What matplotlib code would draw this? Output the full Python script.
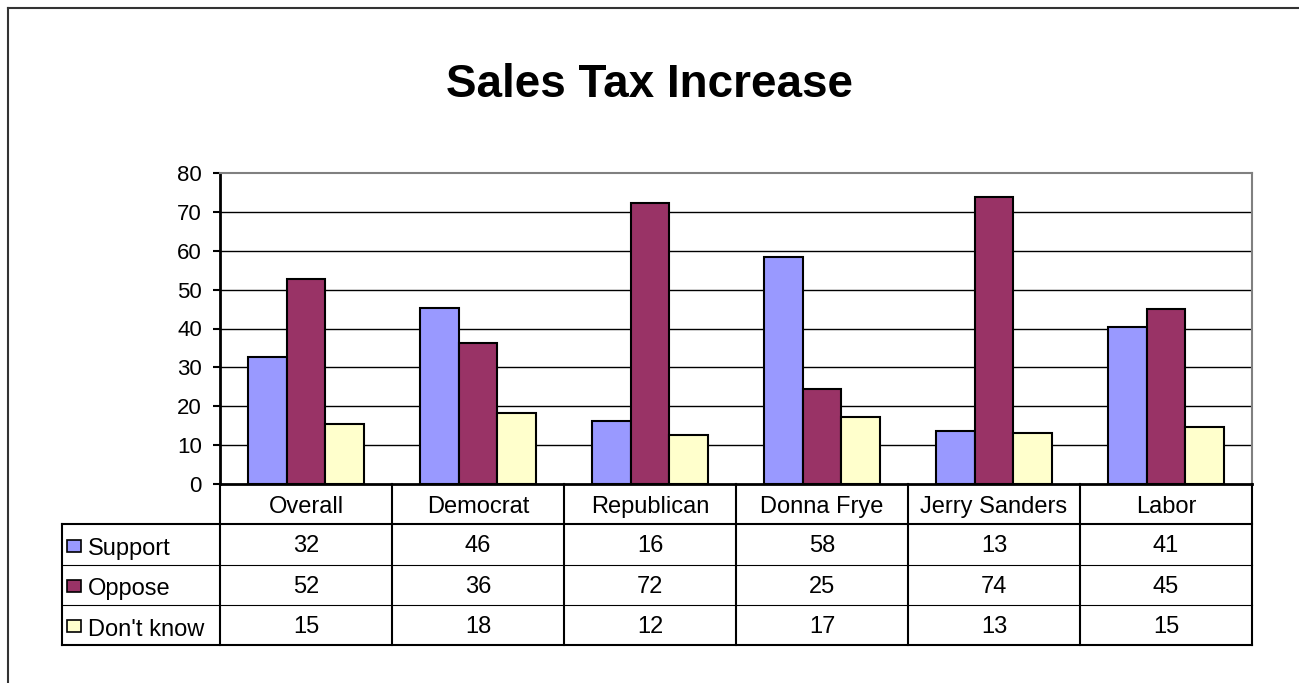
import matplotlib
matplotlib.use('Agg')
import matplotlib.pyplot as plt
from matplotlib.lines import Line2D
from matplotlib.patches import Rectangle

plt.rcParams['font.family'] = ['Liberation Sans', 'DejaVu Sans']

# Data
categories = ['Overall', 'Democrat', 'Republican', 'Donna Frye', 'Jerry Sanders', 'Labor']
series = ['Support', 'Oppose', "Don't know"]
support = [32.6, 45.4, 16.1, 58.3, 13.6, 40.3]
oppose = [52.7, 36.2, 72.2, 24.4, 73.7, 44.9]
dont_know = [15.5, 18.2, 12.5, 17.2, 13.0, 14.6]
# values printed in the data table
table_support = [32, 46, 16, 58, 13, 41]
table_oppose = [52, 36, 72, 25, 74, 45]
table_dont_know = [15, 18, 12, 17, 13, 15]

colors = ['#9999FF', '#993366', '#FFFFCC']
W, H = 1299, 683
fig = plt.figure(figsize=(W / 100, H / 100), dpi=100)

# pixel layout of the plot area
px_left, px_right, px_top, px_bottom = 220, 1252, 173, 484
ax = fig.add_axes([px_left / W, 1 - px_bottom / H, (px_right - px_left) / W, (px_bottom - px_top) / H])

n = len(categories)
bw = 0.225
for k, vals in enumerate([support, oppose, dont_know]):
    xs = [i + 0.5 + (k - 1) * bw for i in range(n)]
    ax.bar(xs, vals, width=bw, color=colors[k], edgecolor='black', linewidth=1.5, zorder=3)

ax.set_xlim(0, n)
ax.set_ylim(0, 80)
ax.set_yticks(range(0, 81, 10))
for y in range(10, 80, 10):
    ax.axhline(y, color='black', linewidth=1.0, zorder=1)
ax.set_xticks([])
ax.tick_params(axis='y', direction='out', length=5, width=1.5, pad=8, labelsize=16)
for s in ['top', 'right']:
    ax.spines[s].set_color('#808080')
    ax.spines[s].set_linewidth(1.5)
for s in ['left', 'bottom']:
    ax.spines[s].set_color('black')
    ax.spines[s].set_linewidth(2)

# data table below the plot
tb_left, tb_bottom = 62, 645
tax = fig.add_axes([tb_left / W, 1 - tb_bottom / H, (px_right - tb_left) / W, (tb_bottom - px_bottom) / H])
x0 = -(px_left - tb_left) / ((px_right - px_left) / n)
tax.set_xlim(x0, n)
tax.set_ylim(4, 0)
tax.axis('off')

thick, thin = 1.5, 0.8
# vertical lines
for i in range(n + 1):
    tax.plot([i, i], [0, 4], color='black', lw=thick, solid_capstyle='projecting', clip_on=False)
tax.plot([x0, x0], [1, 4], color='black', lw=thick, solid_capstyle='projecting', clip_on=False)
# horizontal lines
tax.plot([x0, n], [1, 1], color='black', lw=thick, solid_capstyle='projecting', clip_on=False)
tax.plot([x0, n], [4, 4], color='black', lw=thick, solid_capstyle='projecting', clip_on=False)
for r in [2, 3]:
    tax.plot([x0, n], [r, r], color='black', lw=thin, clip_on=False)

fs = 17
for i, c in enumerate(categories):
    tax.text(i + 0.5, 0.57, c, ha='center', va='center', fontsize=fs)

rows = [table_support, table_oppose, table_dont_know]
for r, vals in enumerate(rows):
    for i, v in enumerate(vals):
        tax.text(i + 0.5, r + 1.55, str(v), ha='center', va='center', fontsize=fs)
    # legend key and series name
    kx = x0 + 5 / 172
    tax.add_patch(Rectangle((kx, r + 1.5 - 0.12), 14 / 172, 0.3, facecolor=colors[r],
                            edgecolor='black', linewidth=1.2, clip_on=False))
    tax.text(x0 + 26 / 172, r + 1.62, series[r], ha='left', va='center', fontsize=fs)

fig.text(650 / W, 1 - 85 / H, 'Sales Tax Increase', ha='center', va='center',
         fontsize=33, fontweight='bold')

# outer chart frame (left and top edges visible)
fig.add_artist(Line2D([7.5 / W, 7.5 / W], [0, 1 - 7.5 / H], transform=fig.transFigure,
                      color='#333333', lw=1.5))
fig.add_artist(Line2D([7.5 / W, 1], [1 - 7.5 / H, 1 - 7.5 / H], transform=fig.transFigure,
                      color='#333333', lw=1.5))

fig.savefig('out.png', dpi=100)
